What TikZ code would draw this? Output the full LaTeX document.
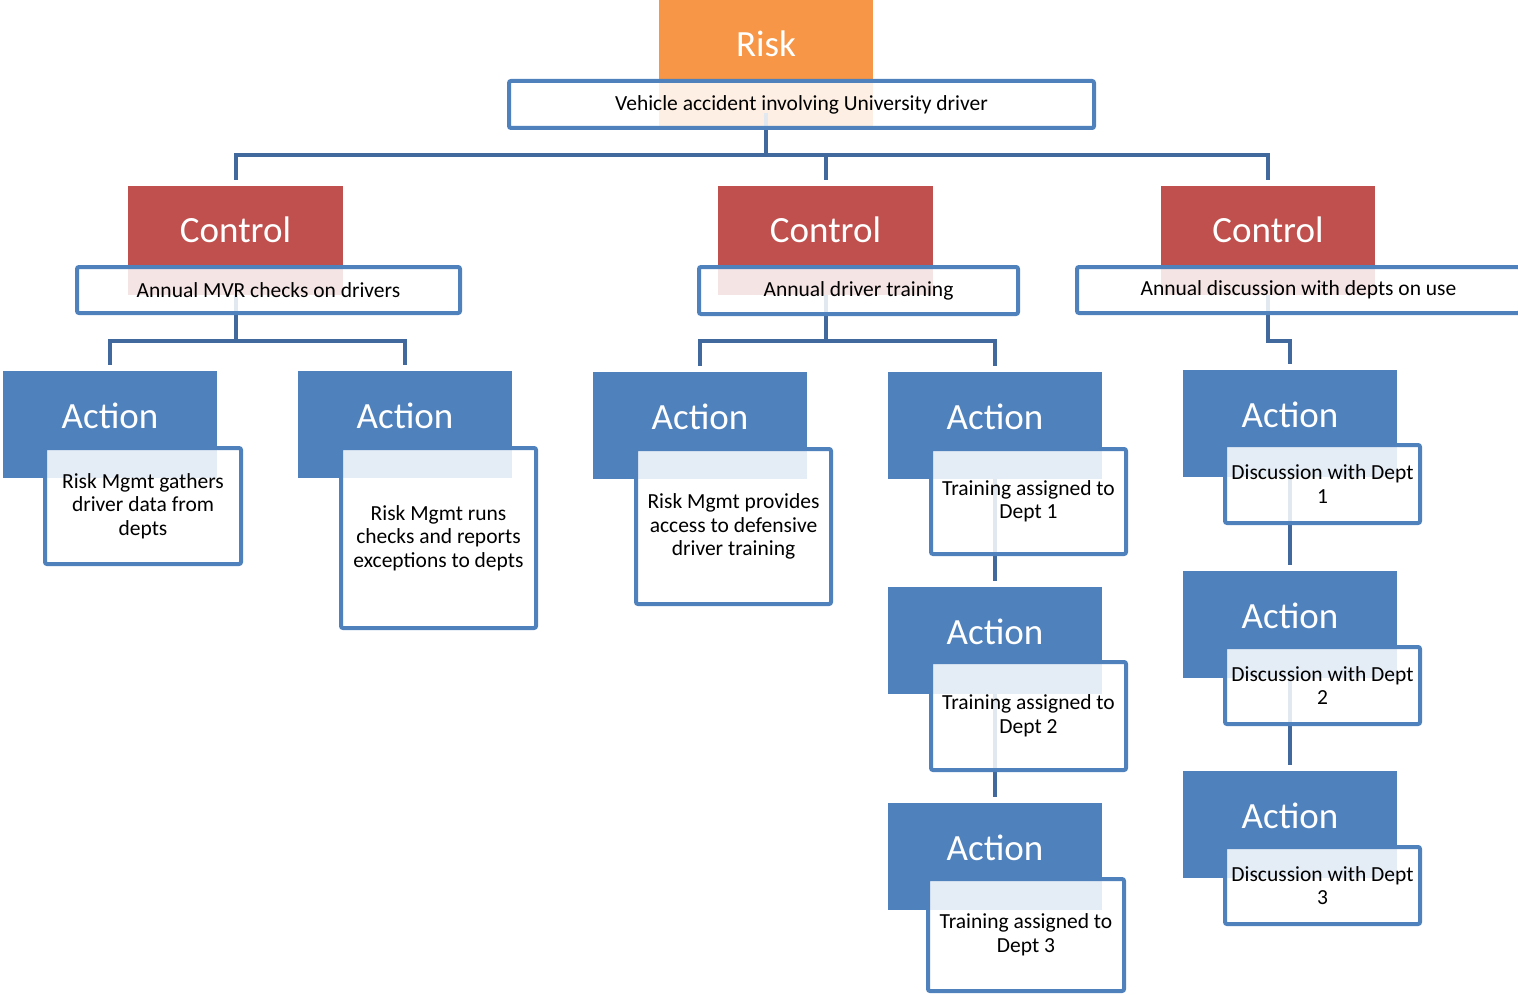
\documentclass[tikz,border=0pt]{standalone}
\usepackage{fontspec}
\setmainfont{Carlito}
\definecolor{riskorange}{HTML}{F79646}
\definecolor{ctrlred}{HTML}{C0504D}
\definecolor{actblue}{HTML}{4F81BD}
\definecolor{linkblue}{HTML}{41699E}
\tikzset{
  hdr/.style={inner sep=0pt, outer sep=0pt, draw=none},
  hdrlabel/.style={anchor=base, text=white, font=\fontsize{37}{40}\selectfont, inner sep=0pt},
  wbox/.style={draw=actblue, line width=4pt, fill=white, fill opacity=0.85, text opacity=1,
    rounded corners=2pt, inner sep=0pt, outer sep=0pt, align=center,
    font=\fontsize{21.5}{23.5}\selectfont},
  conn/.style={draw=linkblue, line width=4pt, shorten >=6pt}
}
\begin{document}
\begin{tikzpicture}[x=1pt, y=-1pt]
\useasboundingbox (0,0) rectangle (1518,995);

% coloured header boxes
\node[hdr, fill=riskorange, minimum width=214pt, minimum height=128pt] (rh) at (766,64) {};
\node[hdr, fill=ctrlred, minimum width=215pt, minimum height=109pt] (rc1) at (235.5,240.5) {};
\node[hdr, fill=ctrlred, minimum width=215pt, minimum height=109pt] (rc2) at (825.5,240.5) {};
\node[hdr, fill=ctrlred, minimum width=214pt, minimum height=109pt] (rc3) at (1268,240.5) {};
\node[hdr, fill=actblue, minimum width=214pt, minimum height=107pt] (ra1) at (110,424.5) {};
\node[hdr, fill=actblue, minimum width=214pt, minimum height=107pt] (ra2) at (405,424.5) {};
\node[hdr, fill=actblue, minimum width=214pt, minimum height=107pt] (ra3) at (700,425.5) {};
\node[hdr, fill=actblue, minimum width=214pt, minimum height=107pt] (ra4) at (995,425.5) {};
\node[hdr, fill=actblue, minimum width=214pt, minimum height=107pt] (ra5) at (995,640.5) {};
\node[hdr, fill=actblue, minimum width=214pt, minimum height=107pt] (ra6) at (995,856.5) {};
\node[hdr, fill=actblue, minimum width=214pt, minimum height=107pt] (ra7) at (1290,423.5) {};
\node[hdr, fill=actblue, minimum width=214pt, minimum height=107pt] (ra8) at (1290,624.5) {};
\node[hdr, fill=actblue, minimum width=214pt, minimum height=107pt] (ra9) at (1290,824.5) {};

% connectors
\draw[conn] ([yshift=15pt]rh.south) -- ++(0,42) -| (rc1.north);
\draw[conn] ([yshift=15pt]rh.south) -- ++(0,42) -| (rc2.north);
\draw[conn] ([yshift=15pt]rh.south) -- ++(0,42) -| (rc3.north);
\draw[conn] (rc1.south) -- ++(0,46) -| (ra1.north);
\draw[conn] (rc1.south) -- ++(0,46) -| (ra2.north);
\draw[conn] (rc2.south) -- ++(0,46) -| (ra3.north);
\draw[conn] (rc2.south) -- ++(0,46) -| (ra4.north);
\draw[conn] (rc3.south) -- ++(0,46) -| (ra7.north);
\draw[conn] (ra4.south) -- (ra5.north);
\draw[conn] (ra5.south) -- (ra6.north);
\draw[conn] (ra7.south) -- (ra8.north);
\draw[conn] (ra8.south) -- (ra9.north);

% header labels
\node[hdrlabel] (rhL) at ([yshift=-57pt]rh.north) {Risk};
\node[hdrlabel] (rc1L) at ([yshift=-57pt]rc1.north) {Control};
\node[hdrlabel] (rc2L) at ([yshift=-57pt]rc2.north) {Control};
\node[hdrlabel] (rc3L) at ([yshift=-57pt]rc3.north) {Control};
\node[hdrlabel] (ra1L) at ([yshift=-57pt]ra1.north) {Action};
\node[hdrlabel] (ra2L) at ([yshift=-57pt]ra2.north) {Action};
\node[hdrlabel] (ra3L) at ([yshift=-57pt]ra3.north) {Action};
\node[hdrlabel] (ra4L) at ([yshift=-57pt]ra4.north) {Action};
\node[hdrlabel] (ra5L) at ([yshift=-57pt]ra5.north) {Action};
\node[hdrlabel] (ra6L) at ([yshift=-57pt]ra6.north) {Action};
\node[hdrlabel] (ra7L) at ([yshift=-57pt]ra7.north) {Action};
\node[hdrlabel] (ra8L) at ([yshift=-57pt]ra8.north) {Action};
\node[hdrlabel] (ra9L) at ([yshift=-57pt]ra9.north) {Action};

% description boxes
\node[wbox, minimum width=585pt, minimum height=47pt] (v0) at (801.5,104.5) {Vehicle accident involving University driver};
\node[wbox, minimum width=383pt, minimum height=46pt] (c1) at (268.5,290) {Annual MVR checks on drivers};
\node[wbox, minimum width=319pt, minimum height=47pt] (c2) at (858.5,290.5) {Annual driver training};
\node[wbox, minimum width=443pt, minimum height=46pt] (c3) at (1298.5,290) {Annual discussion with depts on use};
\node[wbox, minimum width=196pt, minimum height=116pt] (a1) at (143,506) {Risk Mgmt gathers\\driver data from\\depts};
\node[wbox, minimum width=195pt, minimum height=180pt] (a2) at (438.5,538) {Risk Mgmt runs\\checks and reports\\exceptions to depts};
\node[wbox, minimum width=195pt, minimum height=155pt] (a3) at (733.5,526.5) {Risk Mgmt provides\\access to defensive\\driver training};
\node[wbox, minimum width=195pt, minimum height=105pt] (a4) at (1028.5,501.5) {Training assigned to\\Dept 1};
\node[wbox, minimum width=195pt, minimum height=108pt] (a5) at (1028.5,716) {Training assigned to\\Dept 2};
\node[wbox, minimum width=196pt, minimum height=112pt] (a6) at (1026,935) {Training assigned to\\Dept 3};
\node[wbox, minimum width=195pt, minimum height=78pt] (a7) at (1322.5,484) {Discussion with Dept\\1};
\node[wbox, minimum width=195pt, minimum height=77pt] (a8) at (1322.5,685.5) {Discussion with Dept\\2};
\node[wbox, minimum width=195pt, minimum height=77pt] (a9) at (1322.5,885.5) {Discussion with Dept\\3};
\end{tikzpicture}
\end{document}
